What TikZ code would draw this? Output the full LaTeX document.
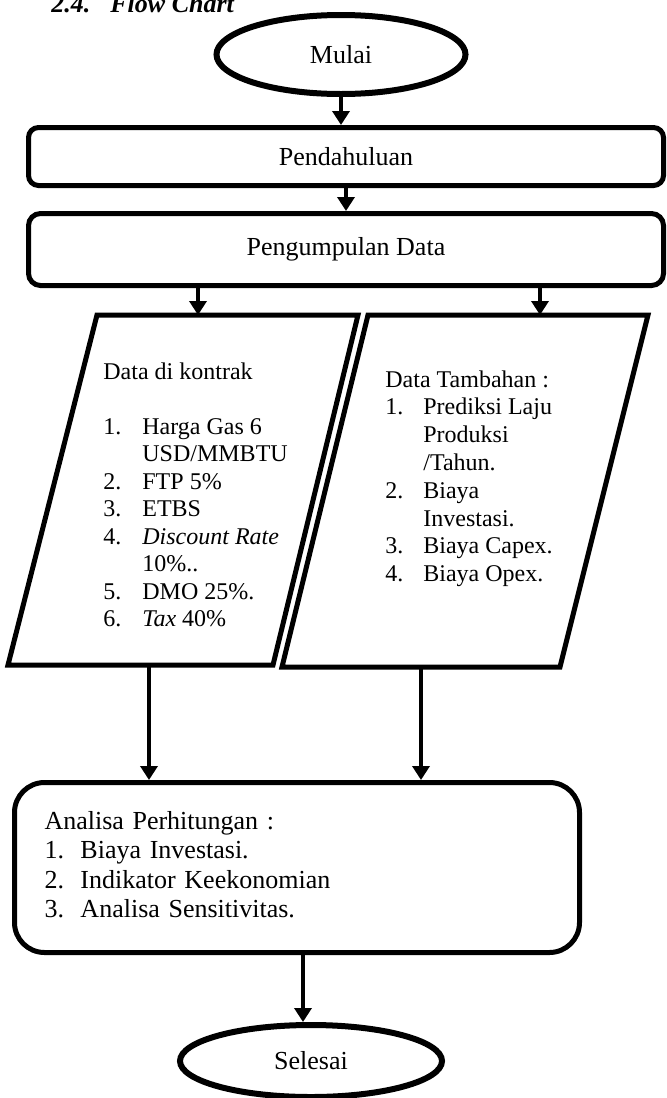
\documentclass[tikz,border=0pt]{standalone}
\usepackage{fontspec}
\setmainfont{Liberation Serif}
\usetikzlibrary{shapes.geometric, arrows.meta}

\begin{document}
\begin{tikzpicture}[x=0.5pt, y=-0.5pt,
  terminal/.style={draw, ellipse, line width=3pt, font=\fontsize{13}{15}\selectfont},
  proses/.style={draw, rectangle, line width=2.5pt, minimum width=317.5pt, font=\fontsize{13}{15}\selectfont},
  datain/.style={draw, line width=2.5pt},
  isi/.style={anchor=base west, inner sep=0pt},
  flow/.style={-{Triangle[length=7pt,width=8.5pt]}, line width=2pt}]
\useasboundingbox (0,0) rectangle (667,1098);

% Judul
\node[anchor=base west, inner sep=0pt, font=\fontsize{13}{15}\selectfont\bfseries\itshape] (judul) at (51,12) {\makebox[29.5pt][l]{2.4.}Flow Chart};

% Mulai dan proses awal
\node[terminal, minimum width=124.5pt, minimum height=39.5pt] (mulai) at (341,54.5) {Mulai};
\node[proses, rounded corners=5pt, minimum height=29pt] (pendahuluan) at (346,156.5) {Pendahuluan};
\node[proses, rounded corners=6pt, minimum height=36pt] (pengumpulan) at (346,249.5) {Pengumpulan Data};

% Data masukan (jajaran genjang)
\draw[datain] (97,315) -- (358,315) -- (273,665) -- (8,665) -- cycle;
\draw[datain] (368,315) -- (648,315) -- (560,667) -- (282,667) -- cycle;
\coordinate (kontrakatas) at (198,315);
\coordinate (kontrakbawah) at (149,665);
\coordinate (tambahanatas) at (540,315);
\coordinate (tambahanbawah) at (421,667);

\node[isi, font=\fontsize{12}{13.75}\selectfont] (isikontrak) at (103,379) {%
\begin{tabular}[t]{@{}p{19.5pt}@{}l@{}}
\multicolumn{2}{@{}l@{}}{Data di kontrak}\\
\\
1. & Harga Gas 6\\
 & USD/MMBTU\\
2. & FTP 5\%\\
3. & ETBS\\
4. & \textit{Discount Rate}\\
 & 10\%..\\
5. & DMO 25\%.\\
6. & \textit{Tax} 40\%
\end{tabular}};

\node[isi, font=\fontsize{12}{13.9}\selectfont] (isitambahan) at (385,387) {%
\begin{tabular}[t]{@{}p{19pt}@{}l@{}}
\multicolumn{2}{@{}l@{}}{Data Tambahan :}\\
1. & Prediksi Laju\\
 & Produksi\\
 & /Tahun.\\
2. & Biaya\\
 & Investasi.\\
3. & Biaya Capex.\\
4. & Biaya Opex.
\end{tabular}};

% Analisa dan selesai
\node[draw, rectangle, rounded corners=15pt, line width=2.5pt, minimum width=282.5pt, minimum height=85pt,
  text width=252.5pt, inner xsep=15pt, align=left, font=\fontsize{13}{14.65}\selectfont] (analisa) at (297,867.5) {%
\begin{tabular}{@{}p{18pt}@{}l@{}}
\multicolumn{2}{@{}l@{}}{Analisa Perhitungan :}\\
1. & Biaya Investasi.\\
2. & Indikator Keekonomian\\
3. & Analisa Sensitivitas.
\end{tabular}};
\node[terminal, minimum width=131pt, minimum height=36pt] (selesai) at (311,1061) {Selesai};

% Panah
\draw[flow] (mulai.south) -- (mulai.south |- pendahuluan.north);
\draw[flow] (pendahuluan.south) -- (pengumpulan.north);
\draw[flow] (kontrakatas |- pengumpulan.south) -- (kontrakatas);
\draw[flow] (tambahanatas |- pengumpulan.south) -- (tambahanatas);
\draw[flow] (kontrakbawah) -- (kontrakbawah |- analisa.north);
\draw[flow] (tambahanbawah) -- (tambahanbawah |- analisa.north);
\draw[flow] ([xshift=-4pt]selesai.north |- analisa.south) -- ([xshift=-4pt]selesai.north);
\end{tikzpicture}
\end{document}
